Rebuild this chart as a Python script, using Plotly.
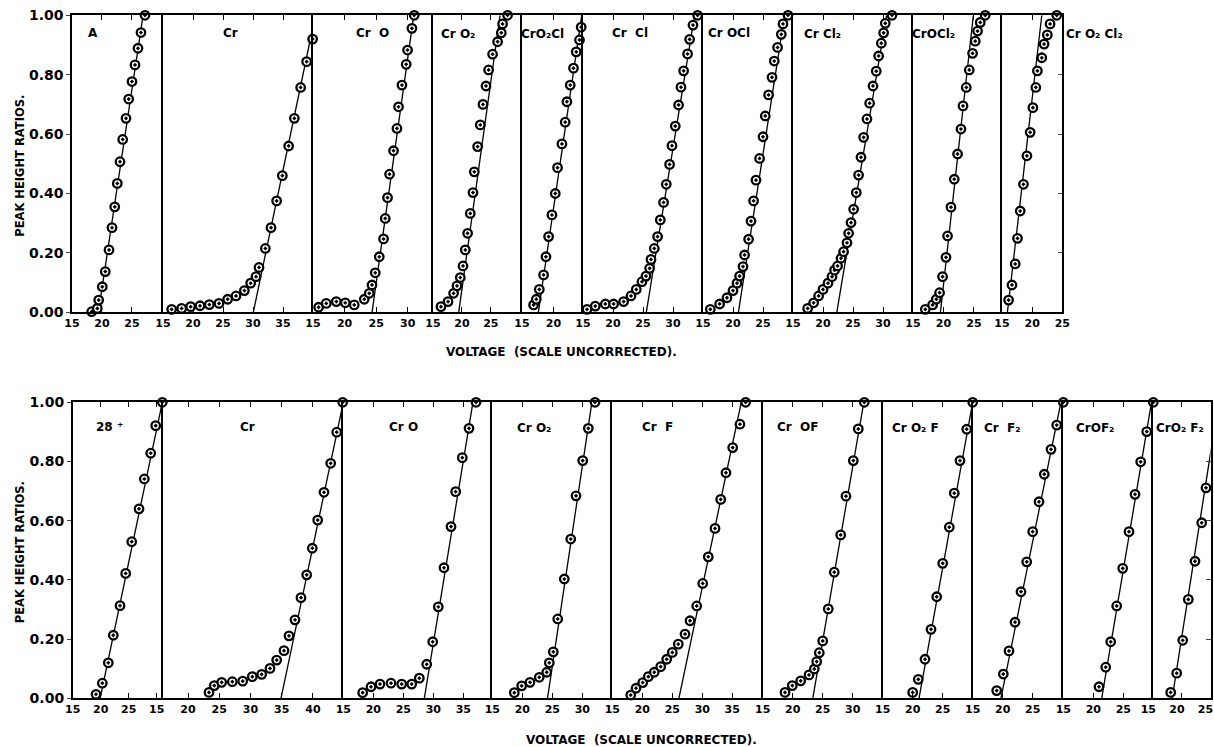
import plotly.graph_objects as go

W, H = 1214, 747

# ---------------- DATA (voltage, peak height ratio, fitted line ends) ----------------
# Top row
A_v = [18.28, 19.22, 19.45, 20.05, 20.55, 21.17, 21.67, 22.12, 22.55, 23.0, 23.45, 24.0, 24.45, 25.0, 25.5, 26.0, 26.5, 27.17]
A_r = [0.002, 0.013, 0.041, 0.086, 0.137, 0.21, 0.285, 0.355, 0.434, 0.507, 0.582, 0.653, 0.718, 0.777, 0.833, 0.889, 0.942, 1.0]
A_fit = [19.4, 26.85]

Cr1_v = [16.44, 18.11, 19.61, 21.17, 22.72, 24.33, 25.78, 27.17, 28.56, 29.61, 30.5, 31.0, 32.06, 33.0, 33.94, 34.89, 35.94, 36.89, 37.94, 38.94, 39.94]
Cr1_r = [0.010, 0.013, 0.019, 0.022, 0.026, 0.030, 0.044, 0.055, 0.073, 0.098, 0.12, 0.151, 0.215, 0.285, 0.375, 0.46, 0.56, 0.653, 0.757, 0.844, 0.92]
Cr1_fit = [30.05, 40.4]

CrO1_v = [15.89, 17.1, 18.69, 20.11, 21.53, 23.12, 23.91, 24.34, 24.86, 25.49, 26.17, 26.44, 26.8, 27.12, 27.75, 28.29, 28.54, 29.08, 29.76, 29.97, 30.66, 31.03]
CrO1_r = [0.017, 0.030, 0.036, 0.032, 0.025, 0.044, 0.064, 0.092, 0.133, 0.187, 0.247, 0.316, 0.386, 0.465, 0.544, 0.619, 0.692, 0.765, 0.835, 0.883, 0.956, 1.0]
CrO1_fit = [24.35, 30.95]

CrO2_1_v = [16.38, 17.6, 18.56, 19.15, 19.72, 20.19, 20.59, 20.99, 21.45, 21.92, 22.15, 22.72, 23.18, 23.65, 24.17, 24.62, 25.31, 26.18, 26.82, 27.04, 27.9]
CrO2_1_r = [0.019, 0.036, 0.064, 0.089, 0.117, 0.156, 0.21, 0.266, 0.333, 0.403, 0.473, 0.558, 0.631, 0.70, 0.762, 0.816, 0.869, 0.911, 0.941, 0.971, 1.0]
CrO2_1_fit = [19.45, 26.6]

CrO2Cl_v = [16.84, 17.27, 17.75, 18.43, 18.81, 19.23, 19.76, 20.29, 20.65, 21.35, 21.87, 22.14, 22.67, 23.19, 23.62, 24.14, 24.41]
CrO2Cl_r = [0.025, 0.044, 0.077, 0.126, 0.187, 0.255, 0.328, 0.40, 0.487, 0.567, 0.64, 0.709, 0.765, 0.822, 0.877, 0.917, 0.96]
CrO2Cl_fit = [17.6, 24.5]

CrCl_v = [15.67, 17.05, 18.72, 20.1, 21.77, 23.0, 23.88, 24.83, 25.5, 26.1, 26.33, 26.88, 27.43, 27.88, 28.43, 28.88, 29.43, 29.83, 30.38, 30.93, 31.33, 31.77, 32.43, 32.77, 33.33, 34.1]
CrCl_r = [0.010, 0.021, 0.028, 0.028, 0.036, 0.055, 0.077, 0.103, 0.122, 0.148, 0.178, 0.215, 0.255, 0.311, 0.37, 0.431, 0.498, 0.561, 0.627, 0.698, 0.758, 0.813, 0.87, 0.919, 0.967, 1.0]
CrCl_fit = [25.55, 33.6]

CrOCl_v = [16.22, 17.77, 19.0, 20.0, 20.67, 21.1, 21.67, 21.93, 22.6, 23.0, 23.43, 23.83, 24.43, 25.0, 25.38, 25.93, 26.5, 26.88, 27.43, 28.05, 28.33, 29.17]
CrOCl_r = [0.010, 0.028, 0.049, 0.073, 0.098, 0.122, 0.154, 0.193, 0.246, 0.307, 0.375, 0.445, 0.518, 0.591, 0.661, 0.732, 0.791, 0.846, 0.892, 0.936, 0.971, 1.0]
CrOCl_fit = [20.9, 28.6]

CrCl2_v = [17.44, 18.44, 19.27, 20.0, 20.83, 21.5, 21.93, 22.43, 23.0, 23.43, 24.0, 24.27, 24.67, 25.1, 25.55, 25.93, 26.33, 26.77, 27.33, 27.77, 28.33, 28.88, 29.27, 29.72, 30.1, 30.38, 31.5]
CrCl2_r = [0.013, 0.032, 0.055, 0.077, 0.098, 0.12, 0.142, 0.156, 0.182, 0.204, 0.234, 0.266, 0.302, 0.347, 0.403, 0.462, 0.522, 0.589, 0.651, 0.704, 0.762, 0.812, 0.863, 0.906, 0.941, 0.973, 1.0]
CrCl2_fit = [22.3, 30.6]

CrOCl2_v = [17.02, 18.21, 18.82, 19.36, 19.85, 20.41, 20.67, 21.23, 21.77, 22.31, 22.87, 23.2, 23.74, 24.23, 24.77, 25.21, 25.59, 26.03, 26.85]
CrOCl2_r = [0.010, 0.025, 0.044, 0.066, 0.12, 0.185, 0.257, 0.354, 0.448, 0.533, 0.617, 0.695, 0.757, 0.816, 0.872, 0.913, 0.947, 0.976, 1.0]
CrOCl2_fit = [19.5, 24.9]

CrO2Cl2_v = [16.09, 16.65, 17.19, 17.57, 18.02, 18.56, 19.13, 19.67, 20.12, 20.61, 20.87, 21.6, 21.98, 22.52, 22.97, 24.08]
CrO2Cl2_r = [0.041, 0.092, 0.163, 0.249, 0.341, 0.431, 0.527, 0.606, 0.689, 0.757, 0.813, 0.857, 0.903, 0.934, 0.971, 1.0]
CrO2Cl2_fit = [15.9, 21.6]

# Bottom row
M28_v = [19.16, 20.29, 21.36, 22.25, 23.45, 24.46, 25.54, 26.84, 27.79, 28.93, 29.82, 31.0]
M28_r = [0.0135, 0.051, 0.12, 0.213, 0.313, 0.422, 0.529, 0.64, 0.741, 0.828, 0.921, 1.0]
M28_fit = [19.9, 31.0]

Cr2_v = [23.36, 24.21, 25.39, 27.09, 28.75, 30.29, 31.79, 33.12, 34.19, 35.36, 36.16, 37.12, 38.08, 38.99, 39.89, 40.75, 41.76, 42.83, 43.79, 44.75]
Cr2_r = [0.020, 0.043, 0.054, 0.056, 0.058, 0.073, 0.081, 0.101, 0.129, 0.161, 0.211, 0.265, 0.34, 0.417, 0.507, 0.602, 0.696, 0.794, 0.899, 1.0]
Cr2_fit = [34.88, 44.85]

CrO2b_v = [18.23, 19.62, 21.12, 22.95, 24.73, 26.4, 27.67, 28.9, 29.9, 30.83, 31.78, 32.95, 33.73, 34.83, 35.95, 37.12]
CrO2b_r = [0.019, 0.039, 0.048, 0.051, 0.048, 0.048, 0.068, 0.115, 0.191, 0.309, 0.441, 0.58, 0.698, 0.813, 0.912, 1.0]
CrO2b_fit = [28.5, 36.6]

CrO2_2_v = [18.67, 19.9, 21.28, 22.83, 24.07, 24.5, 25.17, 25.9, 27.0, 28.07, 28.95, 30.07, 31.0, 32.12]
CrO2_2_r = [0.019, 0.042, 0.054, 0.071, 0.088, 0.12, 0.157, 0.268, 0.403, 0.538, 0.684, 0.803, 0.912, 1.0]
CrO2_2_fit = [24.2, 31.6]

CrF_v = [18.07, 18.95, 20.07, 21.0, 22.0, 23.07, 24.07, 25.0, 26.0, 27.12, 27.95, 29.07, 30.07, 31.0, 32.12, 33.07, 33.95, 35.07, 36.28, 37.23]
CrF_r = [0.011, 0.034, 0.053, 0.073, 0.088, 0.107, 0.132, 0.155, 0.183, 0.217, 0.262, 0.312, 0.388, 0.478, 0.574, 0.672, 0.762, 0.847, 0.926, 1.0]
CrF_fit = [26.1, 36.5]

CrOF_v = [18.72, 19.93, 21.33, 22.72, 23.6, 24.0, 24.43, 25.0, 25.93, 26.93, 28.0, 28.88, 30.1, 30.93, 31.93]
CrOF_r = [0.020, 0.043, 0.059, 0.079, 0.099, 0.124, 0.154, 0.194, 0.302, 0.426, 0.552, 0.683, 0.803, 0.91, 1.0]
CrOF_fit = [23.35, 31.85]

CrO2F_v = [20.0, 20.93, 22.05, 23.05, 24.0, 25.0, 26.1, 26.93, 27.88, 29.0, 30.0]
CrO2F_r = [0.020, 0.064, 0.132, 0.233, 0.343, 0.456, 0.578, 0.693, 0.803, 0.909, 1.0]
CrO2F_fit = [21.05, 30.0]

CrF2_v = [19.0, 20.1, 21.05, 22.05, 23.05, 24.0, 25.0, 26.05, 26.93, 28.05, 29.0, 30.1]
CrF2_r = [0.026, 0.082, 0.16, 0.257, 0.36, 0.461, 0.563, 0.664, 0.757, 0.841, 0.923, 1.0]
CrF2_fit = [19.7, 29.7]

CrOF2_v = [20.95, 22.07, 22.9, 23.9, 24.9, 25.95, 26.95, 27.9, 28.9, 30.0]
CrOF2_r = [0.039, 0.105, 0.191, 0.312, 0.439, 0.563, 0.689, 0.799, 0.901, 1.0]
CrOF2_fit = [21.4, 29.7]

CrO2F2_v = [18.04, 19.09, 20.14, 21.12, 22.29, 23.46, 24.21, 25.2]
CrO2F2_r = [0.020, 0.085, 0.196, 0.334, 0.463, 0.593, 0.711, 0.825]
CrO2F2_fit = [18.3, 26.4]

y_ticks = [0, 0.2, 0.4, 0.6, 0.8, 1.0]
y_title = "PEAK HEIGHT RATIOS."
x_title = "VOLTAGE  (SCALE UNCORRECTED)."

# ---------------- LAYOUT SPECS (pixel positions) ----------------
top_row = dict(py=(15.3, 312.3), panels=[
    dict(lab="A", v=A_v, r=A_r, fit=A_fit, px=(72, 163), rng=(15, 30.17), tv=[15, 20, 25, 30], tt=["15", "20", "25", " "], lp=(93, 33)),
    dict(lab="Cr", v=Cr1_v, r=Cr1_r, fit=Cr1_fit, px=(163, 313), rng=(15, 40), lp=(230, 33)),
    dict(lab="Cr  O", v=CrO1_v, r=CrO1_r, fit=CrO1_fit, px=(313, 433), rng=(15, 34), lp=(372, 33)),
    dict(lab="Cr O₂", v=CrO2_1_v, r=CrO2_1_r, fit=CrO2_1_fit, px=(433, 522), rng=(15, 30.4), lp=(458, 34)),
    dict(lab="CrO₂Cl", v=CrO2Cl_v, r=CrO2Cl_r, fit=CrO2Cl_fit, px=(522, 583), rng=(15, 24.7), lp=(542, 34)),
    dict(lab="Cr  Cl", v=CrCl_v, r=CrCl_r, fit=CrCl_fit, px=(583, 703), rng=(15, 35), lp=(630, 33)),
    dict(lab="Cr OCl", v=CrOCl_v, r=CrOCl_r, fit=CrOCl_fit, px=(703, 793), rng=(15, 30), lp=(729, 33)),
    dict(lab="Cr Cl₂", v=CrCl2_v, r=CrCl2_r, fit=CrCl2_fit, px=(793, 913), rng=(15, 35), lp=(822, 34)),
    dict(lab="CrOCl₂", v=CrOCl2_v, r=CrOCl2_r, fit=CrOCl2_fit, px=(913, 1002), rng=(15, 29.6), lp=(934, 34)),
    dict(lab="Cr O₂ Cl₂", v=CrO2Cl2_v, r=CrO2Cl2_r, fit=CrO2Cl2_fit, px=(1002, 1062.3), rng=(15, 25), lp=(1094, 34), last=True),
])
bottom_row = dict(py=(402.3, 698.3), panels=[
    dict(lab="28 ⁺", v=M28_v, r=M28_r, fit=M28_fit, px=(72.7, 162.7), rng=(15, 31.07), tv=[15, 20, 25, 30], tt=["15", "20", "25", "15"], lp=(109, 427)),
    dict(lab="Cr", v=Cr2_v, r=Cr2_r, fit=Cr2_fit, px=(162.7, 343.3), rng=(15.95, 44.85), lp=(247, 427)),
    dict(lab="Cr O", v=CrO2b_v, r=CrO2b_r, fit=CrO2b_fit, px=(343.3, 492.3), rng=(15, 39.83), lp=(403, 427)),
    dict(lab="Cr O₂", v=CrO2_2_v, r=CrO2_2_r, fit=CrO2_2_fit, px=(492.3, 612.3), rng=(15, 35), lp=(534, 428)),
    dict(lab="Cr  F", v=CrF_v, r=CrF_r, fit=CrF_fit, px=(612.3, 762.7), rng=(15, 40.07), lp=(657, 427)),
    dict(lab="Cr  OF", v=CrOF_v, r=CrOF_r, fit=CrOF_fit, px=(762.7, 882.7), rng=(15, 35), lp=(797, 427)),
    dict(lab="Cr O₂ F", v=CrO2F_v, r=CrO2F_r, fit=CrO2F_fit, px=(882.7, 972.7), rng=(15, 30), lp=(915, 428)),
    dict(lab="Cr  F₂", v=CrF2_v, r=CrF2_r, fit=CrF2_fit, px=(972.7, 1063.3), rng=(15, 30.1), lp=(1002, 428)),
    dict(lab="CrOF₂", v=CrOF2_v, r=CrOF2_r, fit=CrOF2_fit, px=(1063.3, 1153.3), rng=(15, 30), lp=(1095, 428)),
    dict(lab="CrO₂ F₂", v=CrO2F2_v, r=CrO2F2_r, fit=CrO2F2_fit, px=(1153.3, 1210.5), rng=(15, 25.0), lp=(1180, 428), last=True, shift=-5),
])

FONT = "DejaVu Sans"
fig = go.Figure()
layout = dict(
    width=W, height=H, margin=dict(l=0, r=0, t=0, b=0, autoexpand=False),
    paper_bgcolor="white", plot_bgcolor="white", showlegend=False,
    font=dict(family=FONT, color="black"),
)
annotations = []

def fx(px):
    return px / W

def fy(py):
    return 1 - py / H

k = 0
for row in (top_row, bottom_row):
    ydom = [fy(row["py"][1]), fy(row["py"][0])]
    for i, p in enumerate(row["panels"]):
        k += 1
        xn = "x" if k == 1 else f"x{k}"
        yn = "y" if k == 1 else f"y{k}"
        xk = "xaxis" if k == 1 else f"xaxis{k}"
        yk = "yaxis" if k == 1 else f"yaxis{k}"
        lo, hi = p["rng"]
        if "tv" in p:
            tv, tt = p["tv"], p["tt"]
        else:
            tv = [t for t in range(15, 60, 5) if t >= lo - 1e-6 and (t <= hi - 1 or (p.get("last") and t <= hi + 0.01))]
            tt = [str(t) for t in tv]
        layout[xk] = dict(
            domain=[fx(p["px"][0]), fx(p["px"][1])], range=[lo, hi], anchor=yn,
            showline=True, linecolor="black", linewidth=1.8, mirror="ticks",
            ticks="inside", ticklen=5, tickwidth=1.3, tickcolor="black",
            tickvals=tv, ticktext=tt, automargin=False, ticklabeloverflow="allow",
            ticklabelshift=p.get("shift", 0),
            tickfont=dict(family=FONT, size=11, weight="bold", color="black"),
            showgrid=False, zeroline=False, fixedrange=True,
        )
        ya = dict(
            domain=ydom, range=[0, 1], anchor=xn, automargin=False,
            showline=True, linecolor="black", linewidth=1.5, mirror=False,
            showgrid=False, zeroline=False, fixedrange=True,
            tickvals=y_ticks,
        )
        if i == 0:
            ya.update(ticks="outside", ticklen=4, tickwidth=1.3, showticklabels=True,
                      ticktext=[f"{t:.2f}" for t in y_ticks],
                      tickfont=dict(family=FONT, size=14, weight="bold", color="black"))
        elif p.get("last"):
            ya.update(mirror=True, side="right", ticks="inside", ticklen=5, tickwidth=1.3, showticklabels=False)
        else:
            ya.update(ticks="", showticklabels=False)
        layout[yk] = ya

        # fitted straight line
        fig.add_trace(go.Scatter(x=p["fit"], y=[0, 1], mode="lines", xaxis=xn, yaxis=yn,
                                 line=dict(color="black", width=1.3), hoverinfo="skip"))
        # measured points
        fig.add_trace(go.Scatter(x=p["v"], y=p["r"], mode="markers", xaxis=xn, yaxis=yn,
                                 cliponaxis=False,
                                 marker=dict(symbol="circle-dot", size=8.5, color="white",
                                             line=dict(color="black", width=2.3))))
        annotations.append(dict(x=fx(p["lp"][0]), y=fy(p["lp"][1]), xref="paper", yref="paper",
                                text=p["lab"], showarrow=False, xanchor="center", yanchor="middle",
                                font=dict(family=FONT, size=12, weight="bold", color="black")))

    # row titles
    yc = (row["py"][0] + row["py"][1]) / 2
    annotations.append(dict(x=fx(20), y=fy(yc + 2), xref="paper", yref="paper", text=y_title,
                            textangle=-90, showarrow=False, xanchor="center", yanchor="middle",
                            font=dict(family=FONT, size=11.5, weight="bold", color="black")))

annotations.append(dict(x=fx(561), y=fy(352), xref="paper", yref="paper", text=x_title,
                        showarrow=False, xanchor="center", yanchor="middle",
                        font=dict(family=FONT, size=12, weight="bold", color="black")))
annotations.append(dict(x=fx(642), y=fy(740), xref="paper", yref="paper", text=x_title,
                        showarrow=False, xanchor="center", yanchor="middle",
                        font=dict(family=FONT, size=12, weight="bold", color="black")))

layout["annotations"] = annotations
fig.update_layout(**layout)
fig.write_html("out.html", config={"displayModeBar": False},
               post_script="document.body.style.margin='0px';document.body.style.overflow='hidden';")
